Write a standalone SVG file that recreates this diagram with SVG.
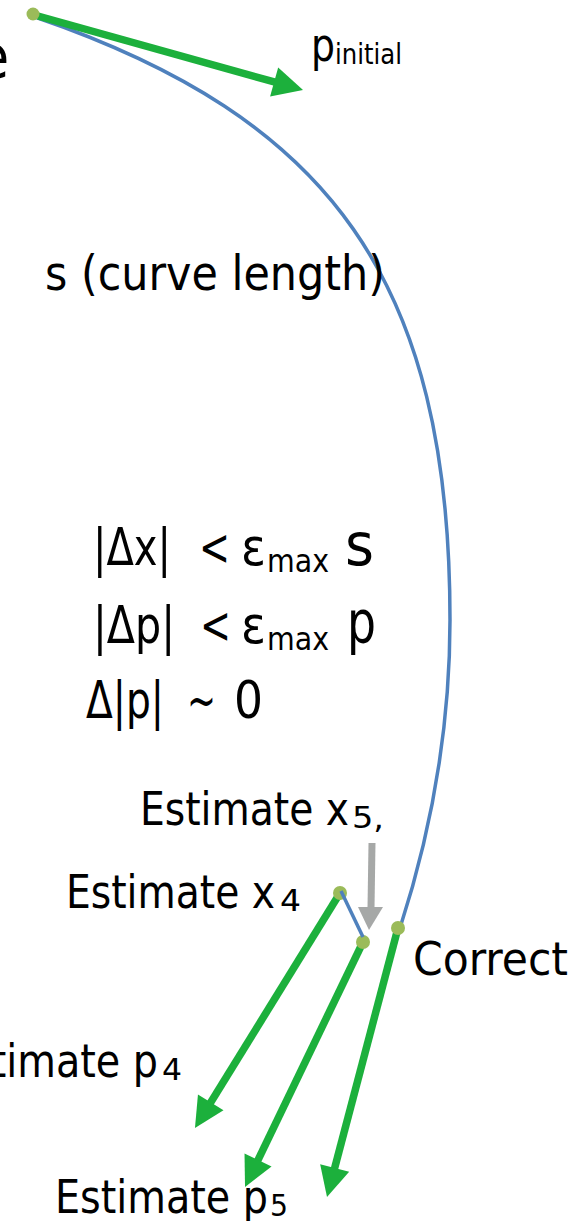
<svg xmlns="http://www.w3.org/2000/svg" width="575" height="1221" viewBox="0 0 575 1221">
<style>
.t{font-family:"DejaVu Sans Condensed","DejaVu Sans",sans-serif;fill:#000;}
.g{stroke:#1CB03C;stroke-width:7.5;fill:none;marker-end:url(#ah);}
.b{stroke:#4F81BD;stroke-width:3.5;fill:none;}
.d{fill:#9BBB59;}
</style>
<defs>
<marker id="ah" markerUnits="userSpaceOnUse" markerWidth="32" markerHeight="30" refX="1" refY="15" orient="auto" overflow="visible">
<path d="M0,0 L30,15 L0,30 Z" fill="#1CB03C"/>
</marker>
</defs>
<rect width="575" height="1221" fill="#fff"/>
<g id="connectors">
<path id="curve" class="b" d="M35,17 C330,118 450,280 450,620 C450,720 435,820 400,928"/>
<line id="p-initial-arrow" class="g" x1="38" y1="16" x2="275.1" y2="82.2"/>
<line id="p4-arrow" class="g" x1="340" y1="893" x2="210.2" y2="1103.3"/>
<line id="p5-arrow" class="g" x1="363" y1="942" x2="257.6" y2="1160.9"/>
<line id="correct-arrow" class="g" x1="398" y1="928" x2="334.4" y2="1169"/>
<g id="gray-arrow">
<line x1="372" y1="843" x2="371" y2="908" stroke="#A6A8A7" stroke-width="7"/>
<polygon points="358,907 383,907 369,930" fill="#A6A8A7"/>
</g>
</g>
<g id="dots">
<circle id="start-dot" class="d" cx="33" cy="14" r="6.5"/>
<circle id="x4-dot" class="d" cx="340" cy="893" r="7"/>
<circle id="x5-dot" class="d" cx="363" cy="942" r="7"/>
<circle id="correct-dot" class="d" cx="398" cy="928" r="7"/>
</g>
<line id="x4-x5-link" class="b" x1="341" y1="891" x2="363" y2="937"/>
<g id="label-e"><text class="t" x="-24" y="78" font-size="60">e</text></g>
<g id="label-pinitial">
<text class="t" x="311" y="61" font-size="46" textLength="24" lengthAdjust="spacingAndGlyphs">p</text>
<text class="t" x="335" y="64" font-size="29" textLength="67" lengthAdjust="spacingAndGlyphs">initial</text>
</g>
<g id="label-s"><text class="t" x="45" y="290" font-size="48" textLength="340" lengthAdjust="spacingAndGlyphs">s (curve length)</text></g>
<g id="formula-1">
<text class="t" x="93" y="565" font-size="52" textLength="78" lengthAdjust="spacingAndGlyphs">|Δx|</text>
<text class="t" x="199" y="565" font-size="52" textLength="31" lengthAdjust="spacingAndGlyphs">&lt;</text>
<text class="t" x="241" y="565" font-size="52" textLength="25" lengthAdjust="spacingAndGlyphs">ε</text>
<text class="t" x="267" y="572" font-size="32" textLength="62" lengthAdjust="spacingAndGlyphs">max</text>
<text class="t" x="345" y="565" font-size="58" textLength="29" lengthAdjust="spacingAndGlyphs">s</text>
</g>
<g id="formula-2">
<text class="t" x="93" y="643" font-size="52" textLength="82" lengthAdjust="spacingAndGlyphs">|Δp|</text>
<text class="t" x="200" y="643" font-size="52" textLength="31" lengthAdjust="spacingAndGlyphs">&lt;</text>
<text class="t" x="241" y="643" font-size="52" textLength="25" lengthAdjust="spacingAndGlyphs">ε</text>
<text class="t" x="267" y="650" font-size="32" textLength="62" lengthAdjust="spacingAndGlyphs">max</text>
<text class="t" x="347" y="643" font-size="58" textLength="29" lengthAdjust="spacingAndGlyphs">p</text>
</g>
<g id="formula-3">
<text class="t" x="86" y="718" font-size="52" textLength="78" lengthAdjust="spacingAndGlyphs">Δ|p|</text>
<text class="t" x="187" y="718" font-size="52" textLength="29" lengthAdjust="spacingAndGlyphs">~</text>
<text class="t" x="234" y="718" font-size="52" textLength="29" lengthAdjust="spacingAndGlyphs">0</text>
</g>
<g id="label-x5">
<text class="t" x="140" y="825" font-size="46" textLength="209" lengthAdjust="spacingAndGlyphs">Estimate x</text>
<text class="t" x="352" y="828" font-size="30" textLength="32" lengthAdjust="spacingAndGlyphs">5,</text>
</g>
<g id="label-x4">
<text class="t" x="66" y="908" font-size="46" textLength="209" lengthAdjust="spacingAndGlyphs">Estimate x</text>
<text class="t" x="280" y="911" font-size="30" textLength="21" lengthAdjust="spacingAndGlyphs">4</text>
</g>
<g id="label-correct"><text class="t" x="413" y="975" font-size="46" textLength="155" lengthAdjust="spacingAndGlyphs">Correct</text></g>
<g id="label-p4">
<text class="t" x="-55" y="1077" font-size="46" textLength="213" lengthAdjust="spacingAndGlyphs">Estimate p</text>
<text class="t" x="162" y="1080" font-size="30" textLength="20" lengthAdjust="spacingAndGlyphs">4</text>
</g>
<g id="label-p5">
<text class="t" x="55" y="1213" font-size="46" textLength="213" lengthAdjust="spacingAndGlyphs">Estimate p</text>
<text class="t" x="270" y="1216" font-size="30" textLength="18" lengthAdjust="spacingAndGlyphs">5</text>
</g>
</svg>
